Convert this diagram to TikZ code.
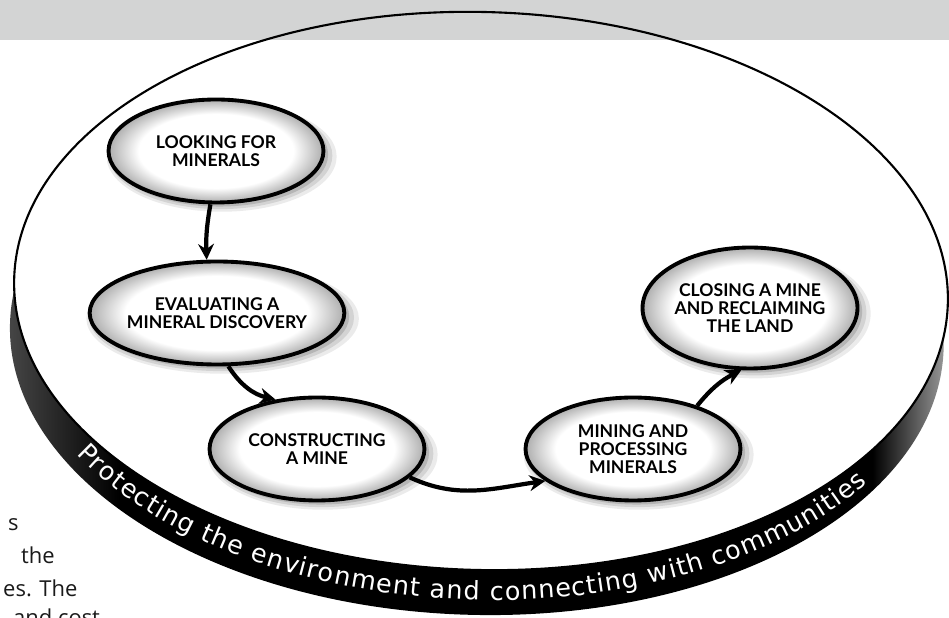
\documentclass[tikz,border=0pt]{standalone}
\usepackage{fontspec}
\setmainfont{Open Sans}
\newfontfamily\stagefont{Lato}
\newfontfamily\rimfont{DejaVu Sans}
\usepackage{xcolor}
\usepackage{tikz}
\definecolor{mdgray}{HTML}{D3D4D4}
\definecolor{mdink}{HTML}{1A1A1A}
\usetikzlibrary{shapes.geometric, arrows.meta, positioning, calc, shadows, decorations.text}
\pgfdeclareradialshading{stageglow}{\pgfpoint{0bp}{0bp}}{color(0bp)=(white); color(18bp)=(white); color(25bp)=(black!32); color(50bp)=(black!32)}
\pgfdeclarehorizontalshading{rimshade}{100bp}{color(0bp)=(black!72); color(25bp)=(black!72); color(31bp)=(black); color(71bp)=(black); color(75bp)=(black!38); color(100bp)=(black!38)}
\tikzset{
  stage/.style={ellipse, draw=black, line width=2.2pt, minimum width=4.3cm, minimum height=2.06cm, inner sep=0pt, align=center, shade, shading=stageglow, font=\stagefont\bfseries\fontsize{10}{10.4}\selectfont,
    drop shadow={shadow scale=1.07, shadow xshift=3pt, shadow yshift=-3pt, opacity=.08, fill=black},
    drop shadow={shadow scale=1.04, shadow xshift=2.5pt, shadow yshift=-2.5pt, opacity=.1, fill=black},
    drop shadow={shadow scale=1.01, shadow xshift=2pt, shadow yshift=-2pt, opacity=.14, fill=black}},
  flow/.style={line width=2.4pt, -{Stealth[length=9pt, width=9pt, inset=3pt]}},
  body/.style={anchor=base west, font=\fontsize{12.5}{15}\selectfont, text=mdink}
}

\begin{document}
\begin{tikzpicture}[x=0.02cm, y=0.02cm]
\useasboundingbox (0,0) rectangle (949,618);
% Draw the dark rim of the disk
\shade[shading=rimshade, rotate around={-1.5:(481,327)}] (478,282) ellipse [x radius=467, y radius=279];
% Draw the disk top
\fill[white, rotate around={-1.5:(481,327)}] (481,327) ellipse [x radius=467, y radius=279];
% Draw the gray header band
\fill[mdgray] (0,578) rectangle (949,618);
\draw[line width=1.2pt, rotate around={-1.5:(481,327)}] (481,327) ellipse [x radius=467, y radius=279];

% Write the text round the rim
\path[rotate around={-1.5:(481,327)}, decorate, decoration={text along path, text align=fit to path, text={|\rimfont\fontsize{14.5}{14.5}\selectfont\color{white}|Protecting the environment and connecting with communities}}] (80.7,153.3) arc[start angle=211, end angle=327, x radius=467, y radius=279];

% Draw the stages
\node[stage] (lookfor) at (216,467) {LOOKING FOR\\MINERALS};
\node[stage] (evaluate) at (217,305) {EVALUATING A\\MINERAL DISCOVERY};
\node[stage] (construct) at (317,169) {CONSTRUCTING\\A MINE};
\node[stage] (mining) at (633,169) {MINING AND\\PROCESSING\\MINERALS};
\node[stage, minimum height=2.42cm] (closing) at (750,310) {CLOSING A MINE\\AND RECLAIMING\\THE LAND};

% Draw arrows between stages
\draw[flow] (lookfor.-96) to[bend right=6] (evaluate.101);
\draw[flow] (evaluate.-78) to[bend right=22] (construct.130);
\draw[flow] (construct.-17) to[out=-25, in=188] (mining.200);
\draw[flow] (mining.34) to[bend left=12] (closing.-98);

% Draw the cut-off text at the left
\node[anchor=base east, font=\bfseries\fontsize{14}{14}\selectfont, text=mdink] (headtail) at (5,455) {s};
\node[body] (line1) at (2,87) {s};
\node[body] (line2) at (15,54) {the};
\node[body] (line3) at (-3,21) {es. The};
\node[body] (line4) at (7,-8) {and cost};
\end{tikzpicture}
\end{document}
